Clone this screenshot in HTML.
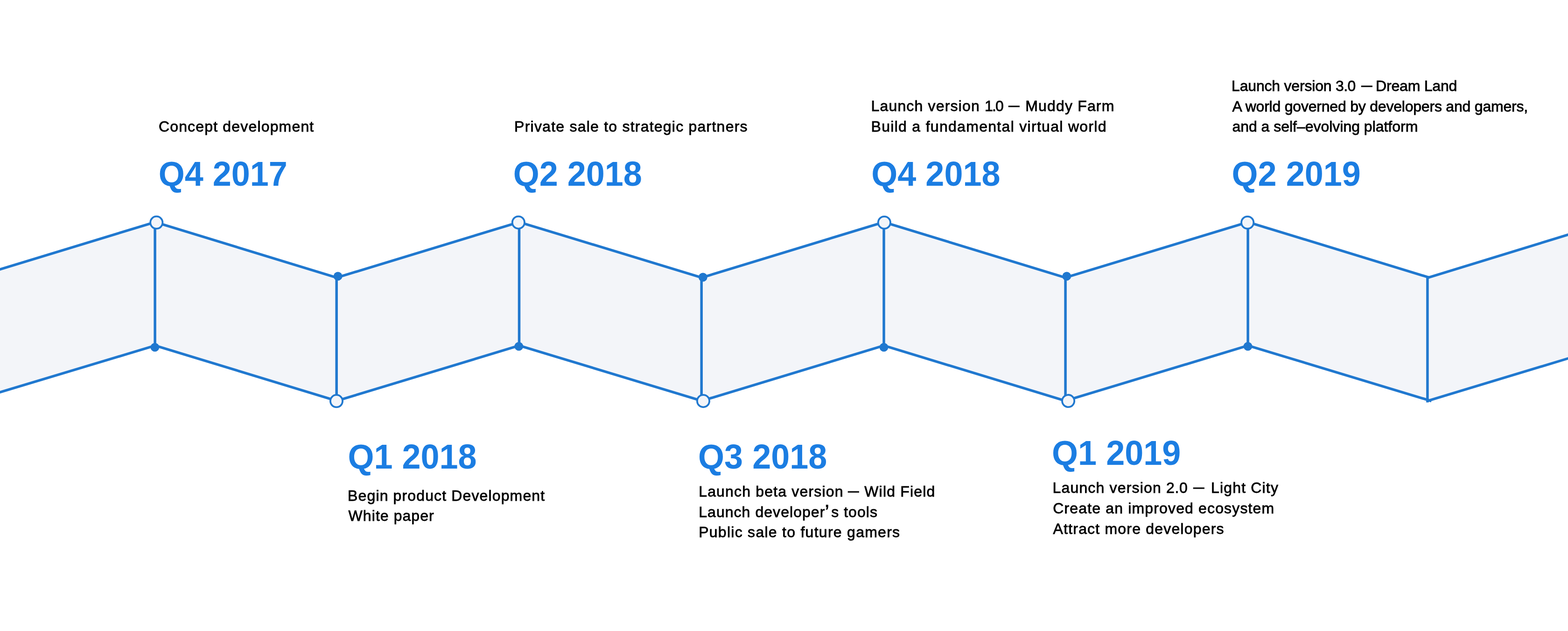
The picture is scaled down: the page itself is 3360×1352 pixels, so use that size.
<!DOCTYPE html>
<html lang="en">
<head>
<meta charset="utf-8">
<title>Roadmap</title>
<style>
html,body{margin:0;padding:0;background:#fff;}
body{width:3360px;height:1352px;position:relative;font-family:"Liberation Sans","Noto Sans CJK SC",sans-serif;}
.band{position:absolute;left:0;top:0;display:block;}
.ms h2,.ms p{position:absolute;margin:0;white-space:nowrap;line-height:1;}
.ms h2{font-size:72px;font-weight:700;color:#1b7de2;letter-spacing:0;transform:scaleY(1.03);transform-origin:0 60.95px;}
.ms p{font-size:32px;font-weight:400;color:#000;-webkit-text-stroke:0.8px #000;}
.d{display:inline-block;width:23px;letter-spacing:0;transform:scaleX(.74);transform-origin:0 50%;position:relative;top:-2px;}
.q{letter-spacing:0;font-size:42px;line-height:0;position:relative;top:3px;margin-left:-1px;}
</style>
</head>
<body>
<main class="roadmap">
<svg class="band" width="3360" height="1352" viewBox="0 0 3360 1352" aria-hidden="true">
  <polygon fill="#f3f5f9" points="-20,583.328 332.5,475.8 721.5,594.9 1112.5,475.8 1503.8,594.9 1894,475.8 2283,594.9 2674.2,475.8 3060.5,594.6 3380,496.762 3380,761.956 3060.5,858.3 2674.2,740.4 2283,858.9 1894,740.4 1503.8,858.9 1112.5,740.4 721.5,858.9 332.5,740.4 -20,846.514"/>
  <g fill="none" stroke="#2078cf" stroke-width="5.5" stroke-linejoin="miter" stroke-linecap="butt">
    <polyline points="-20,583.328 332.5,475.8 721.5,594.9 1112.5,475.8 1503.8,594.9 1894,475.8 2283,594.9 2674.2,475.8 3062.5,594.608"/>
    <polyline points="3057,595.883 3380,496.762"/>
    <polyline points="-20,846.514 332.5,740.4 721.5,858.9 1112.5,740.4 1503.8,858.9 1894,740.4 2283,858.9 2674.2,740.4 3067.3,859.249"/>
    <polyline points="3057,859.574 3380,761.956"/>
    <line x1="332.1" y1="475.8" x2="332.1" y2="740.4"/>
    <line x1="721.2" y1="594.9" x2="721.2" y2="858.9"/>
    <line x1="1112.5" y1="475.8" x2="1112.5" y2="740.4"/>
    <line x1="1503.2" y1="594.9" x2="1503.2" y2="858.9"/>
    <line x1="1894" y1="475.8" x2="1894" y2="740.4"/>
    <line x1="2283.1" y1="594.9" x2="2283.1" y2="858.9"/>
    <line x1="2674.1" y1="475.8" x2="2674.1" y2="740.4"/>
    <line x1="3058.9" y1="591.5" x2="3058.9" y2="862.2"/>
  </g>
  <g fill="#2078cf">
    <circle cx="331.9" cy="744.1" r="9.4"/>
    <circle cx="724.1" cy="591.9" r="9.4"/>
    <circle cx="1111.8" cy="742.1" r="9.4"/>
    <circle cx="1506.3" cy="594" r="9.4"/>
    <circle cx="1894" cy="744.1" r="9.4"/>
    <circle cx="2285.8" cy="591.9" r="9.4"/>
    <circle cx="2674" cy="742.1" r="9.4"/>
  </g>
  <g fill="#f3f5f9" stroke="#2078cf" stroke-width="3.8">
    <circle cx="335.3" cy="476.8" r="13.1"/>
    <circle cx="721" cy="859.3" r="13.1"/>
    <circle cx="1110.9" cy="476.7" r="13.1"/>
    <circle cx="1507" cy="859.2" r="13.1"/>
    <circle cx="1894.9" cy="476.9" r="13.1"/>
    <circle cx="2289.1" cy="859.1" r="13.1"/>
    <circle cx="2673.2" cy="476.9" r="13.1"/>
  </g>
</svg>
<section class="ms" id="q4-2017">
  <p id="q4-2017-p0" style="left:339.9px;top:254.9px;letter-spacing:1.17px">Concept development</p>
  <h2 id="q4-2017-h" style="left:339.7px;top:337.1px">Q4 2017</h2>
</section>
<section class="ms" id="q1-2018">
  <h2 id="q1-2018-h" style="left:745.4px;top:943.2px">Q1 2018</h2>
  <p id="q1-2018-p0" style="left:745.1px;top:1045.5px;letter-spacing:1.13px">Begin product Development</p>
  <p id="q1-2018-p1" style="left:746.6px;top:1088.9px;letter-spacing:1.06px">White paper</p>
</section>
<section class="ms" id="q2-2018">
  <p id="q2-2018-p0" style="left:1102.1px;top:254.9px;letter-spacing:1.23px">Private sale to strategic partners</p>
  <h2 id="q2-2018-h" style="left:1099.7px;top:337.1px">Q2 2018</h2>
</section>
<section class="ms" id="q3-2018">
  <h2 id="q3-2018-h" style="left:1496.1px;top:943.2px">Q3 2018</h2>
  <p id="q3-2018-p0" style="left:1497.2px;top:1036.8px;letter-spacing:1.17px">Launch beta version <span class="d" style="margin-left:-1px;margin-right:2.5px">—</span> Wild Field</p>
  <p id="q3-2018-p1" style="left:1497.2px;top:1080.8px;letter-spacing:1.05px">Launch developer<span class="q" style="margin-right:4.4px">’</span>s tools</p>
  <p id="q3-2018-p2" style="left:1497.2px;top:1124.3px;letter-spacing:1.27px">Public sale to future gamers</p>
</section>
<section class="ms" id="q4-2018">
  <p id="q4-2018-p0" style="left:1866.5px;top:210.8px;letter-spacing:1.17px">Launch version <span class="n" style="letter-spacing:-1.8px">1.0</span> <span class="d" style="margin-left:2px;margin-right:3.0px">—</span> Muddy Farm</p>
  <p id="q4-2018-p1" style="left:1866.5px;top:254.8px;letter-spacing:1.30px">Build a fundamental virtual world</p>
  <h2 id="q4-2018-h" style="left:1867.3px;top:337.3px">Q4 2018</h2>
</section>
<section class="ms" id="q1-2019">
  <h2 id="q1-2019-h" style="left:2254.1px;top:935.0px">Q1 2019</h2>
  <p id="q1-2019-p0" style="left:2255.5px;top:1029.2px;letter-spacing:1.17px">Launch version <span class="n" style="letter-spacing:0.7px">2.0</span> <span class="d" style="margin-left:1.5px;margin-right:4.8px">—</span> Light City</p>
  <p id="q1-2019-p1" style="left:2256.3px;top:1073.2px;letter-spacing:1.15px">Create an improved ecosystem</p>
  <p id="q1-2019-p2" style="left:2256.6px;top:1116.7px;letter-spacing:1.19px">Attract more developers</p>
</section>
<section class="ms tight" id="q2-2019">
  <p id="q2-2019-p0" style="left:2639.1px;top:168.1px;letter-spacing:-0.20px">Launch version <span class="n" style="letter-spacing:-0.55px">3.0</span> <span class="d" style="margin-left:3.3px;margin-right:-0.5px">—</span> Dream Land</p>
  <p id="q2-2019-p1" style="left:2640.6px;top:211.7px;letter-spacing:-0.21px">A world governed by developers and gamers,</p>
  <p id="q2-2019-p2" style="left:2640.4px;top:255.1px;letter-spacing:-0.02px">and a self–evolving platform</p>
  <h2 id="q2-2019-h" style="left:2639.6px;top:337.3px">Q2 2019</h2>
</section>
</main>
</body>
</html>
